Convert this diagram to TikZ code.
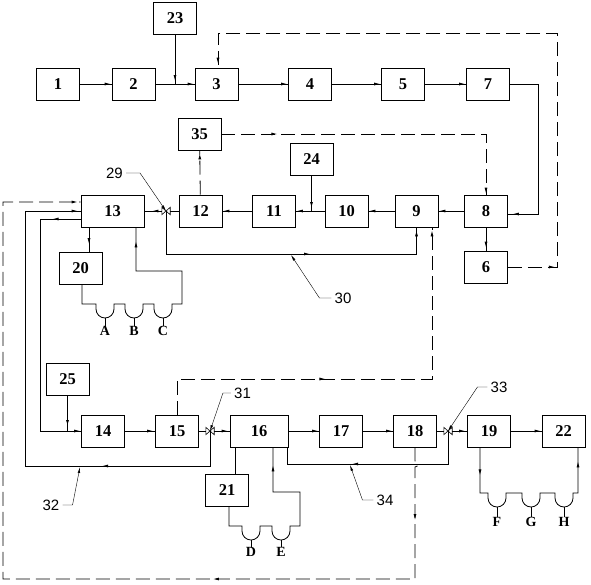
\documentclass[tikz,border=0pt]{standalone}
\usepackage{fontspec}
\setmainfont{Liberation Serif}
\newfontfamily\tagfont{Liberation Sans}
\usetikzlibrary{arrows.meta, decorations.markings}
\tikzset{
  flow/.style={postaction={decorate, decoration={markings, mark=at position #1 with {\arrow{Latex[length=6pt,width=3pt]}}}}},
  flow/.default=-1pt,
  bump/.style={insert path={-- ++(0,5) arc[start angle=180, end angle=360, radius=9pt] -- ++(0,-5)}}
}

\begin{document}
\begin{tikzpicture}[x=1pt, y=-1pt]

\tikzstyle{unit}=[draw=black, rectangle, line width=0.8pt, minimum width=43pt, minimum height=32pt, inner sep=0pt, font=\fontsize{16.5}{17}\selectfont\bfseries]
\tikzstyle{valve}=[rectangle, minimum width=8pt, minimum height=7pt, inner sep=0pt]
\tikzstyle{pipe}=[draw=black, line width=0.8pt]
\tikzstyle{signal}=[pipe, dash pattern=on 14pt off 6pt]
\tikzstyle{letter}=[inner sep=0pt, font=\fontsize{14}{14}\selectfont\bfseries]
\tikzstyle{tag}=[inner sep=3pt, font=\tagfont\fontsize{15}{15}\selectfont]
\tikzstyle{leader}=[draw=black, line width=0.4pt, -{Latex[length=6pt,width=2.5pt]}]

\useasboundingbox (0,0) rectangle (591,584);

% units
\foreach \n/\x in {1/58, 2/133.5, 3/216.5, 4/310, 5/403, 7/488}
	\node [unit] (unit-\n) at (\x, 84) {\n};
\foreach \n/\x in {8/486, 9/416.5, 10/346.5, 11/274, 12/200.5}
	\node [unit] (unit-\n) at (\x, 211) {\n};
\foreach \n/\x in {14/103, 15/177, 17/341, 18/415, 19/489, 22/563.5}
	\node [unit] (unit-\n) at (\x, 431) {\n};
\node [unit, minimum width=63pt] (unit-13) at (112.5, 211) {13};
\node [unit, minimum width=58pt] (unit-16) at (259, 431) {16};
\node [unit] (unit-23) at (175, 18.5) {23};
\node [unit] (unit-35) at (199.5, 134) {35};
\node [unit] (unit-24) at (311.5, 159) {24};
\node [unit] (unit-6) at (486, 267) {6};
\node [unit] (unit-20) at (80.5, 268.5) {20};
\node [unit] (unit-25) at (67.5, 379) {25};
\node [unit] (unit-21) at (227, 490.5) {21};

% valves
\node [valve] (valve-29) at (166, 211) {};
\node [valve] (valve-31) at (210, 431) {};
\node [valve] (valve-33) at (448, 431) {};
\foreach \v in {29,31,33}
	\draw [line width=0.6pt] (valve-\v.north west) -- (valve-\v.south east) -- (valve-\v.north east) -- (valve-\v.south west) -- cycle;

% taps
\coordinate (c-low) at (0, 254);
\coordinate (c-20) at (89, 0);
\coordinate (c-20b) at (82, 0);
\coordinate (c-13b) at (136, 0);
\coordinate (c-21a) at (235, 0);
\coordinate (c-21b) at (229, 0);
\coordinate (c-16a) at (273, 0);
\coordinate (c-16b) at (287, 0);
\coordinate (c-19a) at (480, 0);
\coordinate (c-22a) at (578, 0);
\coordinate (c-9a) at (432, 0);

% top row
\foreach \a/\b in {1/2, 2/3, 3/4, 4/5, 5/7}
	\draw [pipe, flow] (unit-\a) -- (unit-\b);
\draw [pipe, flow=-3pt] (unit-23) -- (unit-23 |- unit-2);
\draw [pipe, flow=-5pt] (unit-7) -- (538, 84) |- ([yshift=-3pt]unit-8.east);
\draw [signal, flow=47pt, flow=-4pt] (unit-6) -| (557, 33) -| ([xshift=1.5pt]unit-3.north);

% middle row
\foreach \a/\b in {8/9, 9/10, 10/11, 11/12}
	\draw [pipe, flow] (unit-\a) -- (unit-\b);
\draw [pipe, flow=-3pt] (unit-24) -- (unit-24 |- unit-10);
\draw [pipe, flow=-3pt] (unit-8) -- (unit-6);
\draw [pipe] (unit-12) -- (valve-29);
\draw [pipe, flow=-8pt] (valve-29) -- (unit-13);
\draw [pipe, flow=187pt, flow=-3pt] (valve-29.center) -- (valve-29 |- c-low) -| (unit-9);
\draw [signal, flow=-3pt] (unit-12) -- (unit-35);
\draw [signal, flow=56pt, flow=-1pt] (unit-35) -| (unit-8);

% 13 and 20
\draw [pipe, flow=-8pt] (unit-13.south -| c-20) -- (unit-20.north -| c-20);
\draw [pipe, flow=-14pt] (unit-20.south -| c-20b) -- (82, 304) -- (96, 304) [bump] -- (125, 304) [bump] -- (154, 304) [bump] -- (182, 304) -- (182, 271) -| (unit-13.south -| c-13b);

% left loops
\draw [signal, flow=76pt, flow=337pt, flow=-3pt] (unit-18) -- (415, 461) arc[start angle=90, end angle=-90, radius=3pt] -- (415, 579) -- (3, 579) |- ([yshift=9pt]unit-13.west);
\draw [pipe, flow=143pt, flow=-3pt] (valve-31.center) |- (25, 466) |- (unit-13.west);
\draw [pipe, flow=28pt, flow=-1pt] ([yshift=-8pt]unit-13.west) -| (40, 431) -- (unit-14);
\draw [pipe, flow=-5pt] (unit-25) -- (unit-25 |- unit-14);

% bottom row
\draw [pipe, flow=-2pt] (unit-14) -- (unit-15);
\draw [pipe] (unit-15) -- (valve-31);
\draw [pipe, flow=-2pt] (valve-31) -- (unit-16);
\draw [pipe, flow] (unit-16) -- (unit-17);
\draw [pipe, flow] (unit-17) -- (unit-18);
\draw [pipe] (unit-18) -- (valve-33);
\draw [pipe, flow=-2pt] (valve-33) -- (unit-19);
\draw [pipe, flow] (unit-19) -- (unit-22);
\draw [pipe, flow=129pt] (valve-33.center) |- (287, 464) -- (unit-16.south -| c-16b);
\draw [signal, flow=184pt, flow=-3pt] (unit-15) |- (432, 379) -- (unit-9.south -| c-9a);

% 21 and 19
\draw [pipe] (unit-16.south -| c-21a) -- (unit-21.north -| c-21a);
\draw [pipe, flow=-18pt] (unit-21.south -| c-21b) -- (229, 526) -- (242, 526) [bump] -- (272, 526) [bump] -- (300, 526) -- (300, 492) -| (unit-16.south -| c-16a);
\draw [pipe, flow=28pt, flow=-14pt] (unit-19.south -| c-19a) -- (480, 493) -- (488, 493) [bump] -- (522, 493) [bump] -- (555, 493) [bump] -- (578, 493) -- (unit-22.south -| c-22a);

% outlets
\foreach \l/\x/\y/\t in {A/105/331/318, B/134/331/318, C/163/331/318, D/251/552/540, E/281/552/540, F/497/522/507, G/531/522/507, H/564/522/507}
{
	\coordinate (tick-\l) at (\x, \t);
	\node [letter] (letter-\l) at (\x, \y) {\l};
	\draw [pipe] (tick-\l) -- (letter-\l);
}

% reference numbers
\coordinate (c-30) at (291, 255);
\coordinate (c-32) at (80, 467);
\coordinate (c-34) at (350, 465);
\node [tag] (tag-29) at (114.5, 173) {29};
\node [tag] (tag-30) at (343, 298) {30};
\node [tag] (tag-31) at (242.5, 393) {31};
\node [tag] (tag-32) at (51, 505) {32};
\node [tag] (tag-33) at (499, 387) {33};
\node [tag] (tag-34) at (385, 500) {34};
\draw [leader] (tag-29.east) -- ++(14, 0) -- (valve-29.center);
\draw [leader] (tag-30.west) -- ++(-12, 0) -- (c-30);
\draw [leader] (tag-31.west) -- ++(-8, 0) -- (valve-31.center);
\draw [leader] (tag-32.east) -- ++(10, 0) -- (c-32);
\draw [leader] (tag-33.west) -- ++(-10, 0) -- (valve-33.center);
\draw [leader] (tag-34.west) -- ++(-11, 0) -- (c-34);

\end{tikzpicture}
\end{document}
